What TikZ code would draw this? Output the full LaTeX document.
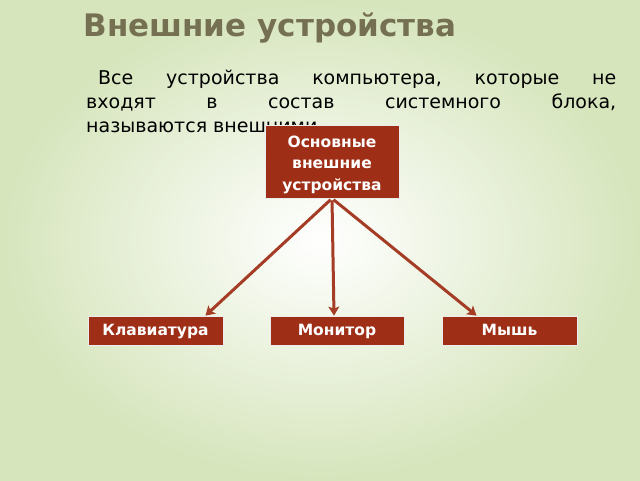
\documentclass[tikz,border=0pt]{standalone}
\usepackage{fontspec}
\setmainfont{DejaVu Sans}
\usetikzlibrary{arrows.meta, positioning}

\definecolor{boxred}{RGB}{158,46,22}
\definecolor{arrowred}{RGB}{165,60,38}
\definecolor{titlegray}{RGB}{118,112,82}
\definecolor{bggreen}{RGB}{214,229,188}

\tikzset{
  devbox/.style = {draw=white!85!gray, line width=0.8pt, fill=boxred, text=white,
                   font=\bfseries\fontsize{15.5}{18}\selectfont, inner sep=2pt,
                   text height=11pt, text depth=1.5pt},
  link/.style   = {draw=arrowred, line width=3pt,
                   -{Stealth[length=9pt, width=11pt, inset=2pt]}, shorten <=2pt}
}

\begin{document}
\begin{tikzpicture}[x=1pt, y=-1pt]
            \useasboundingbox (0,0) rectangle (640,480);
            \shade[inner color=white, outer color=bggreen] (0,0) rectangle (640,480);
            % title and text
            \node[anchor=base west, text=titlegray, font=\bfseries\fontsize{31}{36}\selectfont] (title) at (80,36) {Внешние устройства};
            \node[anchor=base west, inner sep=0pt, font=\fontsize{19}{24}\selectfont] (line1) at (98,84)
              {\makebox[518pt][s]{Все\hfill устройства\hfill компьютера,\hfill которые\hfill не}};
            \node[anchor=base west, inner sep=0pt, font=\fontsize{19}{24}\selectfont] (line2) at (86,108)
              {\makebox[530pt][s]{входят\hfill в\hfill состав\hfill системного\hfill блока,}};
            \node[anchor=base west, inner sep=0pt, font=\fontsize{19}{24}\selectfont] (line3) at (86,132) {называются внешними.};
            % boxes
            \node[devbox, minimum width=134pt, minimum height=73pt, text width=126pt, align=center,
                  text height=, text depth=, font=\bfseries\fontsize{15.5}{21.5}\selectfont] (main) at (332,161.5)
              {\rule{0pt}{17.5pt}Основные\\внешние\\устройства};
            \node[devbox, minimum width=135pt, minimum height=29pt] (kbd) at (155.5,330.5) {Клавиатура};
            \node[devbox, minimum width=134pt, minimum height=29pt] (mon) at (337,330.5) {Монитор};
            \node[devbox, minimum width=135pt, minimum height=29pt] (mouse) at (509.5,330.5) {Мышь};
            % arrows
            \draw[link] (main.south) -- ([xshift=50pt]kbd.north);
            \draw[link] (main.south) -- ([xshift=-3pt]mon.north);
            \draw[link] (main.south) -- ([xshift=-33pt]mouse.north);
        \end{tikzpicture}
\end{document}
